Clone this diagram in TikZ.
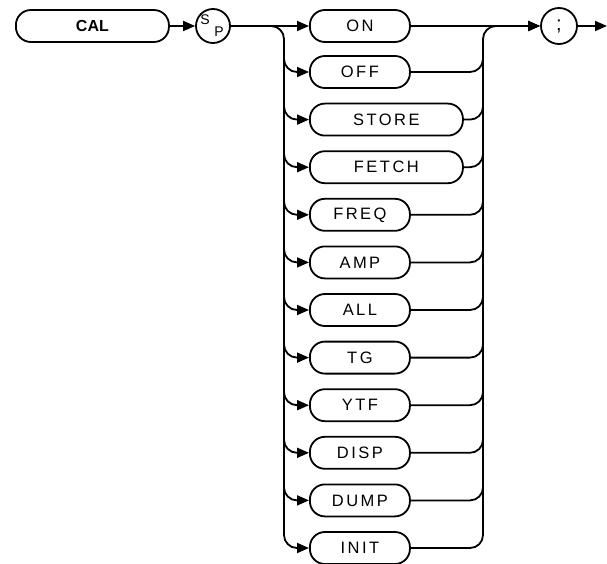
\documentclass[tikz,border=0pt]{standalone}
\usepackage{fontspec}
\setmainfont{Liberation Sans}
\newfontfamily\kwfont[LetterSpace=15]{Liberation Sans}
\usetikzlibrary{arrows.meta,calc}
\begin{document}
\begin{tikzpicture}[x=1pt,y=-1pt,line width=1.8pt,>={Triangle[length=12pt,width=10pt]}]
\useasboundingbox (0,0) rectangle (607,564);
\tikzset{
 kw/.style={draw,rectangle,rounded corners=15pt,minimum height=32pt,inner sep=0pt,anchor=west,font=\kwfont\fontsize{16.5}{16.5}\selectfont},
 shortkw/.style={kw,minimum width=100pt},
 longkw/.style={kw,minimum width=153pt},
 circ/.style={draw,circle,minimum size=34pt,inner sep=0pt},
 conn/.style={rounded corners=13pt},
 sptext/.style={inner sep=0pt,font=\kwfont\fontsize{14}{14}\selectfont}
}
\node[kw,minimum width=153pt,font=\bfseries\fontsize{16}{16}\selectfont] (cal) at (15,26) {CAL};
\node[circ] (sp) at (213,26) {};
\node[sptext] (spS) at (205,20) {S};
\node[sptext] (spP) at (219,32) {P};
\node[shortkw] (on) at (309,26) {ON};
\node[shortkw] (off) at (309,72) {OFF};
\node[longkw] (store) at (309,119.6) {STORE};
\node[longkw] (fetch) at (309,167.2) {FETCH};
\node[shortkw] (freq) at (309,214.8) {FREQ};
\node[shortkw] (amp) at (309,262.4) {AMP};
\node[shortkw] (all) at (309,310) {ALL};
\node[shortkw] (tg) at (309,357.6) {TG};
\node[shortkw] (ytf) at (309,405.2) {YTF};
\node[shortkw] (disp) at (309,452.8) {DISP};
\node[shortkw] (dump) at (309,500.4) {DUMP};
\node[shortkw] (init) at (309,548) {INIT};
\node[circ,minimum size=36pt,font=\fontsize{20}{20}\selectfont] (semi) at (559,26) {;};
\coordinate (lbus) at (284,0);
\coordinate (rbus) at (483,0);
\coordinate (ltop) at (284,40);
\coordinate (rtop) at (483,40);
\coordinate (out) at (607,26);
\draw[->] (cal) -- (sp);
\draw[->] (sp) -- (on);
\draw[conn,->] (sp.east) -| (lbus |- init.west) -- (init.west);
\foreach \n in {off,store,fetch,freq,amp,all,tg,ytf,disp,dump}
  \draw[conn,->] (ltop) |- (\n.west);
\draw[->] (on) -- (semi);
\draw[conn,->] (init.east) -| (rbus |- on.east) -- (semi.west);
\foreach \n in {off,store,fetch,freq,amp,all,tg,ytf,disp,dump}
  \draw[conn] (\n.east) -| (rtop);
\draw[->] (semi) -- (out);
\end{tikzpicture}
\end{document}
